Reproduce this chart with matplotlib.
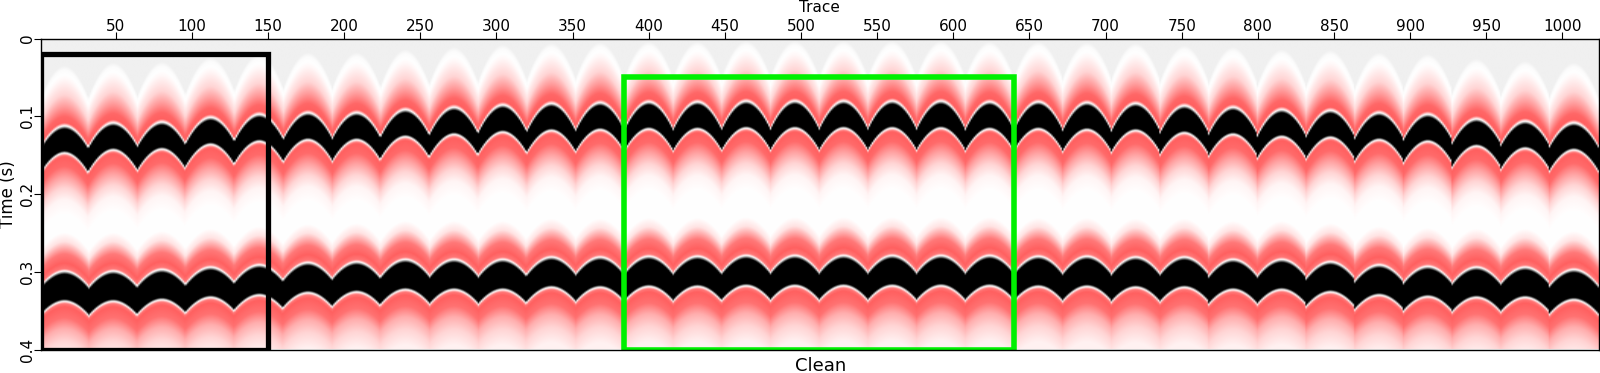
import matplotlib
matplotlib.use("Agg")
import matplotlib.pyplot as plt
from matplotlib.colors import LinearSegmentedColormap
from matplotlib.patches import Rectangle
import numpy as np

# apex time (s) of the upper white line of each arc, one value per 32 traces
apex_1 = [0.113, 0.109, 0.108, 0.102, 0.098, 0.096, 0.096, 0.092,
          0.089, 0.086, 0.084, 0.083, 0.082, 0.082, 0.081, 0.081,
          0.081, 0.081, 0.081, 0.082, 0.082, 0.083, 0.084, 0.087,
          0.089, 0.092, 0.093, 0.096, 0.098, 0.104, 0.107, 0.109]
apex_2 = [0.300, 0.300, 0.298, 0.295, 0.292, 0.289, 0.288, 0.285,
          0.285, 0.285, 0.282, 0.282, 0.281, 0.281, 0.280, 0.280,
          0.280, 0.280, 0.280, 0.280, 0.281, 0.281, 0.282, 0.282,
          0.285, 0.285, 0.288, 0.292, 0.294, 0.295, 0.295, 0.298]

# wavelet read down one trace: offset from the apex (ms) and colour level
offset_1 = [-78, -72, -60, -40, -25, -12, -4, 0, 4, 27, 32, 35, 38, 40, 52, 66, 80, 95, 115]
level_1 = [0.0, 0.08, 0.12, 0.22, 0.38, 0.53, 0.55, 0.62, 0.72, 1.0, 0.72, 0.62, 0.56, 0.55, 0.52, 0.36, 0.22, 0.13, 0.10]
offset_2 = [-50, -38, -22, -10, -3, 0, 4, 30, 36, 39, 42, 46, 60, 74, 90, 110]
level_2 = [0.10, 0.18, 0.48, 0.55, 0.56, 0.62, 0.72, 1.0, 0.72, 0.62, 0.56, 0.55, 0.50, 0.33, 0.22, 0.14]

# how far an arc drops at its cusp (s), by time
depth_time = [0.015, 0.080, 0.118, 0.182, 0.259, 0.317, 0.400]
depth_drop = [0.045, 0.035, 0.028, 0.026, 0.023, 0.019, 0.018]

xticks = [50, 100, 150, 200, 250, 300, 350, 400, 450, 500, 550, 600, 650, 700, 750, 800, 850, 900, 950, 1000]
yticks = [0, 0.1, 0.2, 0.3, 0.4]
ylabels = ["0", "0.1", "0.2", "0.3", "0.4"]

black_box = [1, 150, 0.02, 0.4]
green_box = [384, 640, 0.05, 0.4]

cmap = LinearSegmentedColormap.from_list("clean", [
    (0.0, "#f0f0f0"),
    (0.10, "#ffffff"),
    (0.55, "#ff6060"),
    (0.62, "#ffffff"),
    (0.72, "#000000"),
    (1.0, "#000000"),
], N=512)

traces = np.arange(1, 1025)
rows = np.linspace(0, 0.4, 620)
panel = np.zeros((len(rows), len(traces)))

for j, trace in enumerate(traces):
    i = min(trace // 32, 31)
    u = abs(trace - (16 + 32 * i)) / 16
    s = u ** 1.9
    t0 = np.concatenate([[0.0],
                         apex_1[i] + np.array(offset_1) / 1000,
                         apex_2[i] + np.array(offset_2) / 1000])
    lev = np.concatenate([[0.0], level_1, level_2])
    t = t0 + s * np.interp(t0, depth_time, depth_drop)
    panel[:, j] = np.interp(rows, t, lev)

fig = plt.figure(figsize=(16, 3.73), dpi=100)
ax = fig.add_axes([41 / 1600, 1 - 349.5 / 373, 1558 / 1600, 311 / 373])
ax.imshow(panel, cmap=cmap, vmin=0, vmax=1, aspect="auto",
          extent=[1, 1024, 0.4, 0], interpolation="bilinear")

for box, color, lw in [(black_box, "black", 3.8), (green_box, "#00f000", 4)]:
    ax.add_patch(Rectangle((box[0], box[2]), box[1] - box[0], box[3] - box[2],
                           fill=False, edgecolor=color, linewidth=lw, joinstyle="miter"))

ax.set_xlim(1, 1024)
ax.set_ylim(0.4, 0)
ax.xaxis.tick_top()
ax.set_xticks(xticks)
ax.set_yticks(yticks)
ax.set_yticklabels(ylabels, rotation=90, va="center")
ax.tick_params(axis="x", length=4.8, width=0.8, labelsize=11, pad=-1.5)
ax.tick_params(axis="y", length=4.8, width=0.8, labelsize=11, pad=-0.5)
for sp in ax.spines.values():
    sp.set_linewidth(1)

fig.text(819 / 1600, 1 - 7.5 / 373, "Trace", ha="center", va="center", fontsize=11)
fig.text(8 / 1600, 1 - 194 / 373, "Time (s)", ha="center", va="center", rotation=90, fontsize=12)
fig.text(821 / 1600, 1 - 366 / 373, "Clean", ha="center", va="center", fontsize=13)

fig.savefig("out.png", dpi=100)
